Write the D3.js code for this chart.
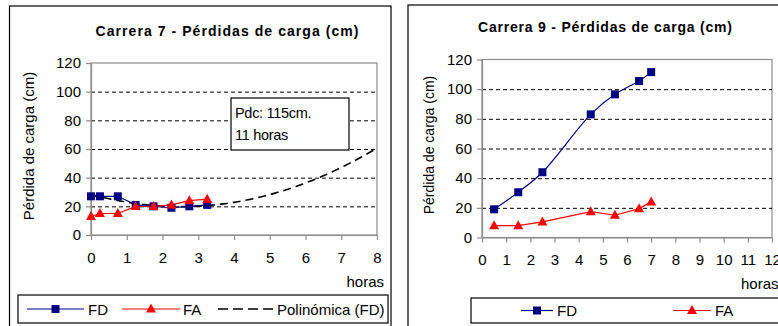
<!DOCTYPE html>
<html>
<head>
<meta charset="utf-8">
<script src="https://cdn.jsdelivr.net/npm/d3@7"></script>
<style>
  html, body { margin: 0; padding: 0; background: #fff; }
  svg { display: block; font-family: "Liberation Sans", Arial, sans-serif; }
</style>
</head>
<body>
<svg id="chart" width="778" height="326"></svg>
<script>
// Carrera 7 — horas de filtración y pérdida de carga (cm)
const horas7 = [0, 0.25, 0.75, 1.25, 1.75, 2.25, 2.75, 3.25];
const fd7 = [27, 27, 27, 21, 20, 19, 20, 21];
const fa7 = [13, 15, 15, 20, 20, 21, 24, 25];
const xTicks7 = [0, 1, 2, 3, 4, 5, 6, 7, 8];

// Carrera 9
const horas9 = [0.5, 1.5, 2.5, 4.5, 5.5, 6.5, 7];
const fd9 = [19, 30.5, 44, 83, 96.5, 105.5, 111.5];
const fa9 = [8, 8, 10.5, 17.5, 15, 19.5, 24];
const xTicks9 = [0, 1, 2, 3, 4, 5, 6, 7, 8, 9, 10, 11, 12];

const yTicks = [0, 20, 40, 60, 80, 100, 120];
const gridValues = [20, 40, 60, 80, 100];

const NAVY = "#000080", RED = "#ff0000", AXIS = "#8c8c8c";

const svg = d3.select("#chart");

// Least-squares polynomial (degree 2) through the FD points, as a spreadsheet trendline does
function polyFit2(xs, ys) {
  const S = k => d3.sum(xs, x => Math.pow(x, k));
  const T = k => d3.sum(xs, (x, i) => Math.pow(x, k) * ys[i]);
  const A = [[S(0), S(1), S(2), T(0)], [S(1), S(2), S(3), T(1)], [S(2), S(3), S(4), T(2)]];
  for (let i = 0; i < 3; i++) {
    for (let j = i + 1; j < 3; j++) {
      const f = A[j][i] / A[i][i];
      for (let k = i; k < 4; k++) A[j][k] -= f * A[i][k];
    }
  }
  const c = [0, 0, 0];
  for (let i = 2; i >= 0; i--) {
    let s = A[i][3];
    for (let k = i + 1; k < 3; k++) s -= A[i][k] * c[k];
    c[i] = s / A[i][i];
  }
  return x => c[0] + c[1] * x + c[2] * x * x;
}

function square(g, x, y, s) {
  g.append("rect").attr("x", x - s / 2).attr("y", y - s / 2)
    .attr("width", s).attr("height", s).attr("fill", NAVY);
}
function triangle(g, x, y, s) {
  const h = s * 0.9;
  g.append("path")
    .attr("d", `M${x},${y - h * 0.6}L${x + s / 2},${y + h * 0.4}L${x - s / 2},${y + h * 0.4}Z`)
    .attr("fill", RED);
}

function drawPanel(o) {
  const g = svg.append("g");
  // outer frame
  g.append("rect").attr("x", o.frame[0]).attr("y", o.frame[1])
    .attr("width", o.frame[2]).attr("height", o.frame[3])
    .attr("fill", "#fff").attr("stroke", "#000").attr("stroke-width", 1.2);

  const x = d3.scaleLinear().domain(o.xDomain).range([o.plot.left, o.plot.right]);
  const y = d3.scaleLinear().domain([0, 120]).range([o.plot.bottom, o.plot.top]);

  // title, spaced out to its full width
  g.append("text").attr("x", o.titleX).attr("y", o.titleY)
    .attr("text-anchor", "middle").attr("font-weight", "bold")
    .attr("font-size", o.titleSize).attr("fill", "#000")
    .attr("textLength", o.titleLen).attr("lengthAdjust", "spacing")
    .text(o.title);

  // plot border
  g.append("rect").attr("x", o.plot.left).attr("y", o.plot.top)
    .attr("width", o.plot.right - o.plot.left).attr("height", o.plot.bottom - o.plot.top)
    .attr("fill", "none").attr("stroke", AXIS).attr("stroke-width", 1.2);

  // dashed gridlines
  g.append("g").selectAll("line").data(gridValues).join("line")
    .attr("x1", o.plot.left).attr("x2", o.plot.right)
    .attr("y1", d => y(d) + 0.5).attr("y2", d => y(d) + 0.5)
    .attr("stroke", "#000").attr("stroke-width", 1).attr("stroke-dasharray", "4,3");

  // axes
  const yAxis = g.append("g").attr("transform", `translate(${o.plot.left},0)`)
    .call(d3.axisLeft(y).tickValues(yTicks).tickSize(5).tickSizeOuter(0).tickPadding(5));
  const xAxis = g.append("g").attr("transform", `translate(0,${o.plot.bottom})`)
    .call(d3.axisBottom(x).tickValues(o.xTicks).tickSize(5).tickSizeOuter(0).tickPadding(12));
  [yAxis, xAxis].forEach(a => {
    a.select(".domain").attr("stroke", AXIS).attr("stroke-width", 1.2);
    a.selectAll(".tick line").attr("stroke", AXIS).attr("stroke-width", 1.2);
    a.selectAll("text").attr("fill", "#000").attr("font-size", o.tickSize)
      .attr("font-family", "Liberation Sans, Arial, sans-serif");
  });

  // axis titles
  g.append("text")
    .attr("transform", `translate(${o.yTitleX},${o.yTitleY}) rotate(-90)`)
    .attr("text-anchor", "middle").attr("dominant-baseline", "central")
    .attr("font-size", o.yTitleSize).attr("fill", "#000").text("Pérdida de carga (cm)");
  g.append("text").attr("x", o.horasX).attr("y", o.horasY)
    .attr("text-anchor", o.horasAnchor).attr("font-size", o.tickSize)
    .attr("fill", "#000").text("horas");

  const plotG = g.append("g");

  // trendline
  if (o.trend) {
    const f = polyFit2(o.horas, o.fd);
    const xs = d3.range(0, o.xDomain[1] + 0.001, 0.05);
    plotG.append("path")
      .attr("d", d3.line().x(d => x(d)).y(d => y(f(d)))(xs))
      .attr("fill", "none").attr("stroke", "#000").attr("stroke-width", 1.6)
      .attr("stroke-dasharray", "8,5");
  }

  const pts = (vals) => o.horas.map((h, i) => [x(h), y(vals[i])]);

  plotG.append("path")
    .attr("d", d3.line().curve(o.smoothFD ? d3.curveCatmullRom.alpha(0.5) : d3.curveLinear)(pts(o.fd)))
    .attr("fill", "none").attr("stroke", NAVY).attr("stroke-width", 1.2);
  plotG.append("path")
    .attr("d", d3.line()(pts(o.fa)))
    .attr("fill", "none").attr("stroke", RED).attr("stroke-width", 1.2);

  pts(o.fd).forEach(p => square(plotG, p[0], p[1], 8));
  pts(o.fa).forEach(p => triangle(plotG, p[0], p[1], 10));

  // note box
  if (o.note) {
    const n = o.note;
    g.append("rect").attr("x", n.x).attr("y", n.y).attr("width", n.w).attr("height", n.h)
      .attr("fill", "#fff").attr("stroke", "#000").attr("stroke-width", 1.2);
    n.lines.forEach((t, i) => {
      g.append("text").attr("x", n.x + 4).attr("y", n.y + 20 + i * 21.5)
        .attr("font-size", 14.5).attr("fill", "#000").attr("letter-spacing", -0.3).text(t);
    });
  }

  // legend
  const L = o.legend;
  g.append("rect").attr("x", L.x).attr("y", L.y).attr("width", L.w).attr("height", L.h)
    .attr("fill", "#fff").attr("stroke", "#000").attr("stroke-width", 1.2);
  const cy = L.y + L.h / 2;
  L.items.forEach(it => {
    const line = g.append("line").attr("x1", it.x1).attr("x2", it.x2)
      .attr("y1", cy).attr("y2", cy).attr("stroke-width", it.kind === "trend" ? 1.6 : 1.2)
      .attr("stroke", it.kind === "fd" ? NAVY : it.kind === "fa" ? RED : "#000");
    if (it.kind === "trend") line.attr("stroke-dasharray", "10,5");
    const mx = (it.x1 + it.x2) / 2;
    if (it.kind === "fd") square(g, mx, cy, 8);
    if (it.kind === "fa") triangle(g, mx, cy, 10);
    g.append("text").attr("x", it.tx).attr("y", cy).attr("dominant-baseline", "central")
      .attr("font-size", L.size).attr("fill", "#000").text(it.label);
  });
}

drawPanel({
  frame: [9.5, 6, 381.5, 330],
  plot: { left: 91, right: 377, top: 63, bottom: 235 },
  xDomain: [0, 8], xTicks: xTicks7,
  title: "Carrera 7 - Pérdidas de carga (cm)", titleX: 227, titleY: 36, titleSize: 14, titleLen: 263,
  tickSize: 15, yTitleX: 28, yTitleY: 146, yTitleSize: 15,
  horasX: 384, horasY: 287, horasAnchor: "end",
  horas: horas7, fd: fd7, fa: fa7, smoothFD: false, trend: true,
  note: { x: 231, y: 98, w: 118, h: 52, lines: ["Pdc: 115cm.", "11 horas"] },
  legend: { x: 18, y: 295, w: 370, h: 28, size: 15, items: [
    { kind: "fd", x1: 27, x2: 84, tx: 88, label: "FD" },
    { kind: "fa", x1: 122, x2: 180, tx: 183, label: "FA" },
    { kind: "trend", x1: 218, x2: 275, tx: 277, label: "Polinómica (FD)" }
  ]}
});

drawPanel({
  frame: [408, 5, 390, 330],
  plot: { left: 482, right: 772, top: 59.5, bottom: 237.5 },
  xDomain: [0, 12], xTicks: xTicks9,
  title: "Carrera 9 - Pérdidas de carga (cm)", titleX: 605, titleY: 32, titleSize: 14, titleLen: 254,
  tickSize: 15, yTitleX: 429, yTitleY: 145, yTitleSize: 14,
  horasX: 741, horasY: 289, horasAnchor: "start",
  horas: horas9, fd: fd9, fa: fa9, smoothFD: true, trend: false,
  legend: { x: 471, y: 298, w: 330, h: 25, size: 15, items: [
    { kind: "fd", x1: 521, x2: 553, tx: 557, label: "FD" },
    { kind: "fa", x1: 673, x2: 711, tx: 715, label: "FA" }
  ]}
});
</script>
</body>
</html>
